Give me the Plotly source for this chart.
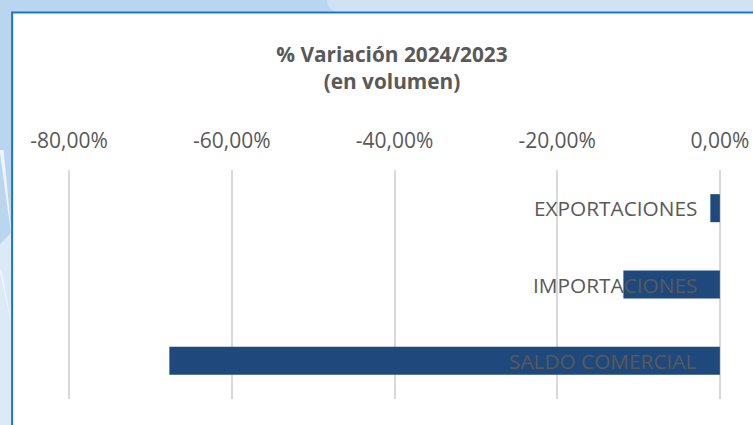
import plotly.graph_objects as go

categories = ["EXPORTACIONES", "IMPORTACIONES", "SALDO COMERCIAL"]
variation_pct = [-1.17, -11.86, -67.68]
tick_values = [-80, -60, -40, -20, 0]
tick_labels = ["-80,00%", "-60,00%", "-40,00%", "-20,00%", "0,00%"]

W, H = 753, 425
X_MIN, X_MAX, X_PAD = -80, 0, 1.0
# pixel positions of -80% and 0% in the page
px_lo, px_hi = 69.5, 720.0
scale = (px_hi - px_lo) / (X_MAX - X_MIN)
L = px_lo - X_PAD * scale
R = W - (px_hi + X_PAD * scale)
T, B = 170, 26
pw, ph = W - L - R, H - T - B

def px_x(p):
    return (p - L) / pw

def px_y(p):
    return 1 - (p - T) / ph

fig = go.Figure(go.Bar(
    x=variation_pct, y=categories, orientation="h",
    marker=dict(color="#1F497D", line=dict(width=0)),
    hoverinfo="skip",
))

shapes = [
    dict(type="path", xref="paper", yref="paper", layer="below",
         path=f"M {px_x(330)} {px_y(-5)} Q {px_x(322)} {px_y(8)} {px_x(340)} {px_y(14)} L {px_x(760)} {px_y(14)} L {px_x(760)} {px_y(-5)} Z",
         fillcolor="#D0E3F4", line=dict(width=0)),
    dict(type="path", xref="paper", yref="paper", layer="below",
         path=f"M {px_x(-5)} {px_y(250)} L {px_x(14)} {px_y(230)} L {px_x(14)} {px_y(430)} L {px_x(-5)} {px_y(430)} Z",
         fillcolor="#DCEAF7", line=dict(width=0)),
    dict(type="path", xref="paper", yref="paper", layer="below",
         path=f"M {px_x(0)} {px_y(150)} L {px_x(4)} {px_y(150)} L {px_x(13)} {px_y(245)} Z",
         fillcolor="rgba(255,255,255,0.75)", line=dict(width=0)),
    dict(type="path", xref="paper", yref="paper", layer="below",
         path=f"M {px_x(0)} {px_y(270)} L {px_x(2)} {px_y(270)} L {px_x(13)} {px_y(330)} Z",
         fillcolor="rgba(255,255,255,0.6)", line=dict(width=0)),
    dict(type="rect", xref="paper", yref="paper", layer="below",
         x0=px_x(12.5), x1=px_x(770), y0=px_y(12.5), y1=px_y(440),
         fillcolor="white", line=dict(color="#1C74D1", width=2)),
]

annotations = [
    dict(x=0, y=c, xref="x", yref="y", text=c, showarrow=False,
         xanchor="right", yanchor="middle", xshift=-21,
         font=dict(family="Open Sans", size=20.8, color="#595959"))
    for c in categories
]

fig.update_layout(
    width=W, height=H,
    margin=dict(l=L, r=R, t=T, b=B, pad=0),
    paper_bgcolor="#B9D5EF",
    plot_bgcolor="rgba(0,0,0,0)",
    shapes=shapes,
    annotations=annotations,
    showlegend=False,
    bargap=0.633,
    font=dict(family="Open Sans", color="#595959"),
    title=dict(
        text="<b>% Variación 2024/2023<br>(en volumen)</b>",
        x=392 / W, xanchor="center", xref="container",
        y=1 - 62 / H, yanchor="top", yref="container",
        font=dict(size=20.8, color="#595959", family="Open Sans"),
        automargin=False,
    ),
    xaxis=dict(
        side="top", range=[X_MIN - X_PAD, X_MAX + X_PAD], automargin=False,
        tickvals=tick_values, ticktext=tick_labels,
        tickfont=dict(size=21, color="#595959"),
        ticks="outside", ticklen=13, tickcolor="rgba(0,0,0,0)",
        showgrid=True, gridcolor="#D9D9D9", gridwidth=1.5,
        zeroline=False, showline=False,
    ),
    yaxis=dict(
        autorange="reversed", automargin=False,
        showticklabels=False,
        showgrid=False, zeroline=False, showline=False, ticks="",
    ),
)

fig.write_html(
    "out.html",
    config={"displayModeBar": False},
    post_script="document.body.style.margin='0';document.body.style.overflow='hidden';",
)
